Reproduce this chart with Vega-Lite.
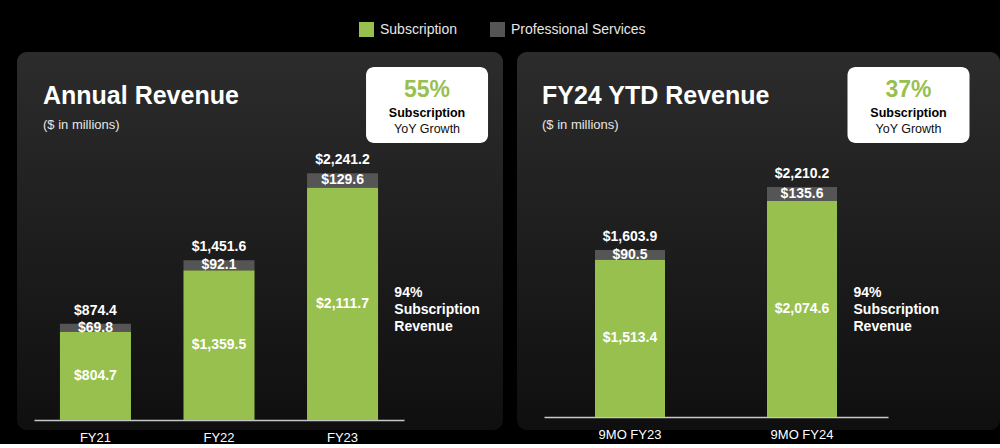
{
  "$schema": "https://vega.github.io/schema/vega-lite/v6.json",
  "background": "#000000",
  "padding": {"left": 17, "top": 22, "right": 0, "bottom": 0},
  "spacing": 14,
  "datasets": {
    "annual": [
      {"period": "FY21", "Subscription": 804.7, "Professional Services": 69.8, "total": 874.4},
      {"period": "FY22", "Subscription": 1359.5, "Professional Services": 92.1, "total": 1451.6},
      {"period": "FY23", "Subscription": 2111.7, "Professional Services": 129.6, "total": 2241.2}
    ],
    "ytd": [
      {"period": "9MO FY23", "Subscription": 1513.4, "Professional Services": 90.5, "total": 1603.9},
      {"period": "9MO FY24", "Subscription": 2074.6, "Professional Services": 135.6, "total": 2210.2}
    ],
    "annualNote": [{"growth": "55%", "share": "94%"}],
    "ytdNote": [{"growth": "37%", "share": "94%"}]
  },
  "hconcat": [
    {
      "width": 486,
      "height": 378,
      "title": {"text": "Annual Revenue", "subtitle": "($ in millions)", "dx": 26},
      "encoding": {
        "x": {
          "field": "period", "type": "nominal",
          "scale": {"domain": ["FY21", "FY22", "FY23"], "range": [17, 387], "paddingInner": 0.425, "paddingOuter": 0.21},
          "axis": {"offset": -10, "title": null}
        }
      },
      "resolve": {"scale": {"y": "independent"}},
      "layer": [
        {
          "data": {"name": "annual"},
          "transform": [{"fold": ["Subscription", "Professional Services"], "as": ["type", "value"]}],
          "mark": {"type": "bar"},
          "encoding": {
            "y": {"field": "value", "type": "quantitative", "stack": "zero", "scale": {"domain": [-90.8, 3342], "nice": false, "zero": false}, "axis": null},
            "color": {
              "field": "type", "type": "nominal",
              "scale": {"domain": ["Subscription", "Professional Services"], "range": ["#98c04f", "#555555"]},
              "legend": {"orient": "none", "legendX": 342, "legendY": -30, "direction": "horizontal", "title": null, "symbolType": "square", "symbolSize": 225, "symbolStrokeWidth": 0, "labelFontSize": 14, "labelColor": "#e6e6e6", "labelOffset": 6, "columnPadding": 32, "padding": 0}
            },
            "order": {"field": "type", "sort": "descending"}
          }
        },
        {
          "data": {"name": "annual"},
          "mark": {"type": "text", "dy": -13, "baseline": "middle", "fontWeight": "bold", "fontSize": 14, "color": "#ffffff"},
          "encoding": {
            "y": {"field": "total", "type": "quantitative", "scale": {"domain": [-90.8, 3342], "nice": false, "zero": false}, "axis": null},
            "text": {"field": "total", "type": "quantitative", "format": "$,.1f"}
          }
        },
        {
          "data": {"name": "annual"},
          "transform": [{"fold": ["Subscription", "total"], "as": ["key", "value"]}],
          "mark": {"type": "text", "baseline": "middle", "fontWeight": "bold", "fontSize": 14, "color": "#ffffff"},
          "encoding": {
            "y": {"field": "value", "type": "quantitative", "stack": "zero", "scale": {"domain": [-181.6, 6684], "nice": false, "zero": false}, "axis": null},
            "detail": {"field": "key"},
            "order": {"field": "key", "sort": "ascending"},
            "text": {
              "condition": {"test": "datum.key === 'total'", "field": "Professional Services", "type": "quantitative", "format": "$,.1f"},
              "field": "value", "type": "quantitative", "format": "$,.1f"
            }
          }
        },
        {
          "data": {"name": "annualNote"},
          "mark": {"type": "bar", "color": "#ffffff", "cornerRadius": 8, "width": 122, "xOffset": 84.5},
          "encoding": {
            "x": {"datum": "FY23", "type": "nominal"},
            "y": {"datum": 2516, "type": "quantitative", "scale": {"domain": [-90.8, 3342], "nice": false, "zero": false}, "axis": null},
            "y2": {"datum": 3206}
          }
        },
        {
          "data": {"name": "annualNote"},
          "mark": {"type": "text", "align": "center", "baseline": "alphabetic", "dx": 84.5, "fontSize": 23, "fontWeight": "bold", "color": "#98c04f"},
          "encoding": {
            "x": {"datum": "FY23", "type": "nominal"},
            "y": {"datum": 2931, "type": "quantitative", "scale": {"domain": [-90.8, 3342], "nice": false, "zero": false}, "axis": null},
            "text": {"field": "growth"}
          }
        },
        {
          "data": {"name": "annualNote"},
          "mark": {"type": "text", "align": "center", "baseline": "alphabetic", "dx": 84.5, "fontSize": 12.5, "fontWeight": "bold", "color": "#000000", "text": "Subscription"},
          "encoding": {
            "x": {"datum": "FY23", "type": "nominal"},
            "y": {"datum": 2752, "type": "quantitative", "scale": {"domain": [-90.8, 3342], "nice": false, "zero": false}, "axis": null}
          }
        },
        {
          "data": {"name": "annualNote"},
          "mark": {"type": "text", "align": "center", "baseline": "alphabetic", "dx": 84.5, "fontSize": 12.5, "color": "#111111", "text": "YoY Growth"},
          "encoding": {
            "x": {"datum": "FY23", "type": "nominal"},
            "y": {"datum": 2604, "type": "quantitative", "scale": {"domain": [-90.8, 3342], "nice": false, "zero": false}, "axis": null}
          }
        },
        {
          "data": {"name": "annualNote"},
          "mark": {"type": "text", "align": "left", "baseline": "alphabetic", "dx": 51.8, "fontSize": 14, "fontWeight": "bold", "color": "#ffffff"},
          "encoding": {
            "x": {"datum": "FY23", "type": "nominal"},
            "y": {"datum": 1117, "type": "quantitative", "scale": {"domain": [-90.8, 3342], "nice": false, "zero": false}, "axis": null},
            "text": {"field": "share"}
          }
        },
        {
          "data": {"name": "annualNote"},
          "mark": {"type": "text", "align": "left", "baseline": "alphabetic", "dx": 51.8, "dy": 17, "lineHeight": 17, "fontSize": 14, "fontWeight": "bold", "color": "#ffffff", "text": ["Subscription", "Revenue"]},
          "encoding": {
            "x": {"datum": "FY23", "type": "nominal"},
            "y": {"datum": 1117, "type": "quantitative", "scale": {"domain": [-90.8, 3342], "nice": false, "zero": false}, "axis": null}
          }
        }
      ]
    },
    {
      "width": 483,
      "height": 378,
      "title": {"text": "FY24 YTD Revenue", "subtitle": "($ in millions)", "dx": 25},
      "encoding": {
        "x": {
          "field": "period", "type": "nominal",
          "scale": {"domain": ["9MO FY23", "9MO FY24"], "range": [27, 371], "paddingInner": 0.593, "paddingOuter": 0.2965},
          "axis": {"offset": -13, "title": null}
        }
      },
      "resolve": {"scale": {"y": "independent"}},
      "layer": [
        {
          "data": {"name": "ytd"},
          "transform": [{"fold": ["Subscription", "Professional Services"], "as": ["type", "value"]}],
          "mark": {"type": "bar"},
          "encoding": {
            "y": {"field": "value", "type": "quantitative", "stack": "zero", "scale": {"domain": [-124.9, 3506], "nice": false, "zero": false}, "axis": null},
            "color": {
              "field": "type", "type": "nominal",
              "scale": {"domain": ["Subscription", "Professional Services"], "range": ["#98c04f", "#555555"]},
              "legend": {"orient": "none", "legendX": 342, "legendY": -30, "direction": "horizontal", "title": null, "symbolType": "square", "symbolSize": 225, "symbolStrokeWidth": 0, "labelFontSize": 14, "labelColor": "#e6e6e6", "labelOffset": 6, "columnPadding": 32, "padding": 0}
            },
            "order": {"field": "type", "sort": "descending"}
          }
        },
        {
          "data": {"name": "ytd"},
          "mark": {"type": "text", "dy": -13, "baseline": "middle", "fontWeight": "bold", "fontSize": 14, "color": "#ffffff"},
          "encoding": {
            "y": {"field": "total", "type": "quantitative", "scale": {"domain": [-124.9, 3506], "nice": false, "zero": false}, "axis": null},
            "text": {"field": "total", "type": "quantitative", "format": "$,.1f"}
          }
        },
        {
          "data": {"name": "ytd"},
          "transform": [{"fold": ["Subscription", "total"], "as": ["key", "value"]}],
          "mark": {"type": "text", "baseline": "middle", "fontWeight": "bold", "fontSize": 14, "color": "#ffffff"},
          "encoding": {
            "y": {"field": "value", "type": "quantitative", "stack": "zero", "scale": {"domain": [-249.8, 7012], "nice": false, "zero": false}, "axis": null},
            "detail": {"field": "key"},
            "order": {"field": "key", "sort": "ascending"},
            "text": {
              "condition": {"test": "datum.key === 'total'", "field": "Professional Services", "type": "quantitative", "format": "$,.1f"},
              "field": "value", "type": "quantitative", "format": "$,.1f"
            }
          }
        },
        {
          "data": {"name": "ytdNote"},
          "mark": {"type": "bar", "color": "#ffffff", "cornerRadius": 8, "width": 122, "xOffset": 106.5},
          "encoding": {
            "x": {"datum": "9MO FY24", "type": "nominal"},
            "y": {"datum": 2632, "type": "quantitative", "scale": {"domain": [-124.9, 3506], "nice": false, "zero": false}, "axis": null},
            "y2": {"datum": 3362}
          }
        },
        {
          "data": {"name": "ytdNote"},
          "mark": {"type": "text", "align": "center", "baseline": "alphabetic", "dx": 106.5, "fontSize": 23, "fontWeight": "bold", "color": "#98c04f"},
          "encoding": {
            "x": {"datum": "9MO FY24", "type": "nominal"},
            "y": {"datum": 3071, "type": "quantitative", "scale": {"domain": [-124.9, 3506], "nice": false, "zero": false}, "axis": null},
            "text": {"field": "growth"}
          }
        },
        {
          "data": {"name": "ytdNote"},
          "mark": {"type": "text", "align": "center", "baseline": "alphabetic", "dx": 106.5, "fontSize": 12.5, "fontWeight": "bold", "color": "#000000", "text": "Subscription"},
          "encoding": {
            "x": {"datum": "9MO FY24", "type": "nominal"},
            "y": {"datum": 2882, "type": "quantitative", "scale": {"domain": [-124.9, 3506], "nice": false, "zero": false}, "axis": null}
          }
        },
        {
          "data": {"name": "ytdNote"},
          "mark": {"type": "text", "align": "center", "baseline": "alphabetic", "dx": 106.5, "fontSize": 12.5, "color": "#111111", "text": "YoY Growth"},
          "encoding": {
            "x": {"datum": "9MO FY24", "type": "nominal"},
            "y": {"datum": 2725, "type": "quantitative", "scale": {"domain": [-124.9, 3506], "nice": false, "zero": false}, "axis": null}
          }
        },
        {
          "data": {"name": "ytdNote"},
          "mark": {"type": "text", "align": "left", "baseline": "alphabetic", "dx": 51.5, "fontSize": 14, "fontWeight": "bold", "color": "#ffffff"},
          "encoding": {
            "x": {"datum": "9MO FY24", "type": "nominal"},
            "y": {"datum": 1153, "type": "quantitative", "scale": {"domain": [-124.9, 3506], "nice": false, "zero": false}, "axis": null},
            "text": {"field": "share"}
          }
        },
        {
          "data": {"name": "ytdNote"},
          "mark": {"type": "text", "align": "left", "baseline": "alphabetic", "dx": 51.5, "dy": 17, "lineHeight": 17, "fontSize": 14, "fontWeight": "bold", "color": "#ffffff", "text": ["Subscription", "Revenue"]},
          "encoding": {
            "x": {"datum": "9MO FY24", "type": "nominal"},
            "y": {"datum": 1153, "type": "quantitative", "scale": {"domain": [-124.9, 3506], "nice": false, "zero": false}, "axis": null}
          }
        }
      ]
    }
  ],
  "resolve": {"scale": {"x": "independent", "y": "independent", "color": "shared"}, "legend": {"color": "shared"}},
  "config": {
    "font": "Liberation Sans",
    "view": {
      "stroke": null,
      "cornerRadius": 10,
      "fill": {"gradient": "linear", "x1": 0, "y1": 0, "x2": 0, "y2": 1, "stops": [{"offset": 0, "color": "#2c2c2c"}, {"offset": 1, "color": "#0f0f0f"}]}
    },
    "title": {
      "anchor": "start", "frame": "group", "baseline": "top", "offset": -80,
      "font": "Liberation Sans", "fontSize": 25, "fontWeight": "bold", "color": "#ffffff",
      "subtitleFont": "Liberation Sans", "subtitleFontSize": 13, "subtitleColor": "#e6e6e6", "subtitlePadding": 10
    },
    "axisX": {
      "domainColor": "#c8c8c8", "domainWidth": 1.5, "ticks": false, "grid": false,
      "labelColor": "#ffffff", "labelFontSize": 13, "labelPadding": 11, "labelAngle": 0, "labelFont": "Liberation Sans"
    }
  }
}
